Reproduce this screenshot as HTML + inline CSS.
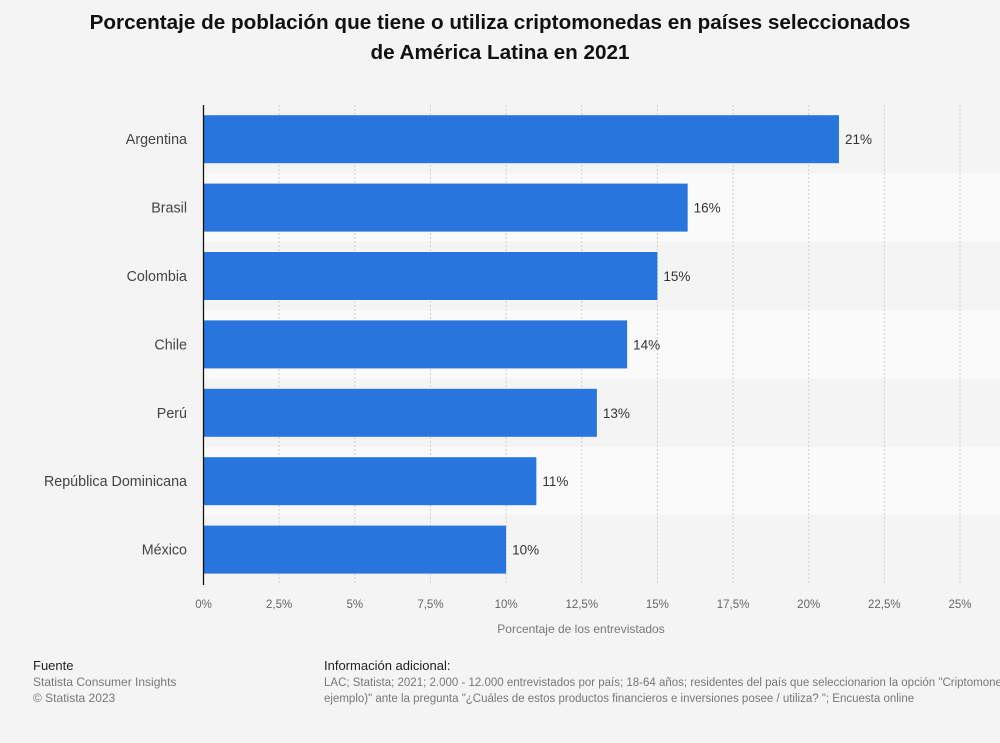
<!DOCTYPE html>
<html><head><meta charset="utf-8"><style>
body{margin:0;background:#f4f4f4;font-family:"Liberation Sans",sans-serif;}
#wrap{position:relative;width:1000px;height:743px;overflow:hidden;background:#f4f4f4}
h1{position:absolute;top:8px;left:0;width:1000px;margin:0;text-align:center;font-size:20.7px;line-height:30px;font-weight:bold;color:#111}
.ft{position:absolute;font-size:12px;color:#777;line-height:16px;white-space:nowrap}
.ft b{color:#222;font-weight:normal;font-size:13px}
</style></head><body>
<div id="wrap">
<h1>Porcentaje de población que tiene o utiliza criptomonedas en países seleccionados<br>de América Latina en 2021</h1>
<svg id="chart" width="1000" height="743" style="position:absolute;left:0;top:0"></svg>
<div class="ft" style="left:33px;top:658px"><b>Fuente</b><br>Statista Consumer Insights<br>© Statista 2023</div>
<div class="ft" style="left:324px;top:658px;font-size:11.5px"><b>Información adicional:</b><br>LAC; Statista; 2021; 2.000 - 12.000 entrevistados por país; 18-64 años; residentes del país que seleccionarion la opción "Criptomonedas (por<br>ejemplo)" ante la pregunta "¿Cuáles de estos productos financieros e inversiones posee / utiliza? "; Encuesta online</div>
</div>
<script>
const categories=["Argentina","Brasil","Colombia","Chile","Perú","República Dominicana","México"];
const values=[21,16,15,14,13,11,10];
const tickValues=[0,2.5,5,7.5,10,12.5,15,17.5,20,22.5,25];
const tickLabels=["0%","2,5%","5%","7,5%","10%","12,5%","15%","17,5%","20%","22,5%","25%"];
const NS="http://www.w3.org/2000/svg";
const svg=document.getElementById('chart');
const x0=203.5,x1=960,top0=105,rowH=68.4,barH=48;
const xs=v=>x0+(x1-x0)*v/25;
const yc=i=>top0+rowH*i+rowH/2;
function mk(t,a){const e=document.createElementNS(NS,t);for(const k in a)e.setAttribute(k,a[k]);svg.appendChild(e);return e;}
categories.forEach((c,i)=>{if(i%2==1){const r=mk('rect',{x:x0,y:top0+rowH*i,width:x1-x0+40,height:rowH,fill:'#fafafa'});

}});
tickValues.forEach((v,i)=>{if(i>0){const l=mk('line',{x1:xs(v),x2:xs(v),y1:top0,y2:585,stroke:'#cfcfcf','stroke-dasharray':'2,2'});

}
const t=mk('text',{x:xs(v),y:608,'text-anchor':'middle','font-size':'11.5',fill:'#666'});t.textContent=tickLabels[i];

});
categories.forEach((c,i)=>{
const r=mk('rect',{x:x0,y:yc(i)-barH/2,width:xs(values[i])-x0,height:barH,fill:'#2876dd'});


const l=mk('text',{x:187,y:yc(i)+5,'text-anchor':'end','font-size':'14.3',fill:'#444'});l.textContent=c;


const v=mk('text',{x:xs(values[i])+6,y:yc(i)+5,'font-size':'13.5',fill:'#333'});v.textContent=values[i]+'%';


});
const ax=mk('line',{x1:x0,x2:x0,y1:top0,y2:585,stroke:'#111','stroke-width':1.3});


const at=mk('text',{x:581,y:633,'text-anchor':'middle','font-size':'12',fill:'#777'});at.textContent='Porcentaje de los entrevistados';


</script>
</body></html>
